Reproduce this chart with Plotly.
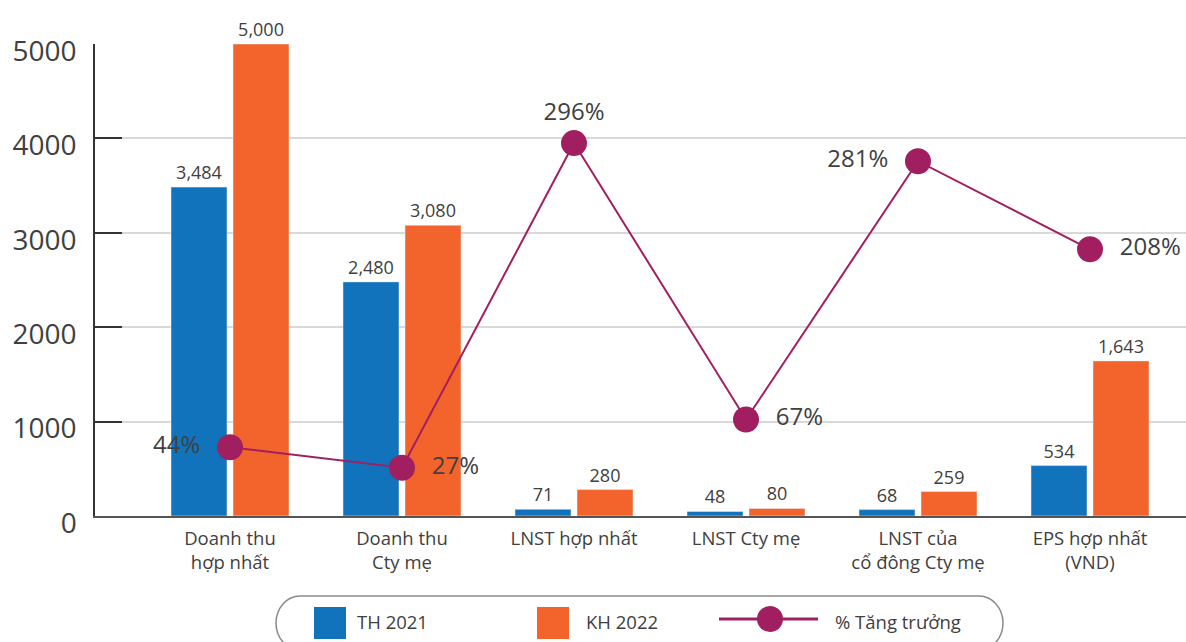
import plotly.graph_objects as go

categories = ["Doanh thu<br>hợp nhất", "Doanh thu<br>Cty mẹ", "LNST hợp nhất",
              "LNST Cty mẹ", "LNST của<br>cổ đông Cty mẹ", "EPS hợp nhất<br>(VND)"]
th_2021 = [3484, 2480, 71, 48, 68, 534]
kh_2022 = [5000, 3080, 280, 80, 259, 1643]
growth_pct = [44, 27, 296, 67, 281, 208]
growth_text_pos = ["middle left", "middle right", "top center",
                   "middle right", "middle left", "middle right"]

BLUE = "#1173BB"
ORANGE = "#F3642D"
PURPLE = "#A11F61"
TXT = "#404040"
FONT = "Open Sans"
NB = "\u00a0\u00a0"

W, H = 1186, 642
ML, MR, MT, MB = 95, 0, 44, 126
PW, PH = W - ML - MR, H - MT - MB


def px(x):
    return (x - ML) / PW


def py(y):
    return (H - MB - y) / PH


def label(v, pos):
    t = f"{v}%"
    if pos.endswith("left"):
        return t + NB
    if pos.endswith("right"):
        return NB + t
    return t


x_idx = list(range(len(categories)))

fig = go.Figure()
fig.add_trace(go.Bar(
    x=x_idx, y=th_2021, name="TH 2021", marker_color=BLUE,
    texttemplate="%{y:,}", textposition="outside", cliponaxis=False,
    textfont=dict(size=18, color=TXT, family=FONT),
))
fig.add_trace(go.Bar(
    x=x_idx, y=kh_2022, name="KH 2022", marker_color=ORANGE,
    texttemplate="%{y:,}", textposition="outside", cliponaxis=False,
    textfont=dict(size=18, color=TXT, family=FONT),
))
fig.add_trace(go.Scatter(
    x=x_idx, y=growth_pct, name="% Tăng trưởng", yaxis="y2",
    mode="lines+markers+text", cliponaxis=False,
    line=dict(color=PURPLE, width=2),
    marker=dict(size=26, color=PURPLE),
    text=[label(v, p) for v, p in zip(growth_pct, growth_text_pos)],
    textposition=growth_text_pos,
    textfont=dict(size=24, color=TXT, family=FONT),
))

shapes = [
    # gap between y ticks and gridlines
    dict(type="rect", xref="paper", yref="paper", x0=px(123), x1=px(148),
         y0=py(516) + 0.004, y1=py(40), fillcolor="white", line_width=0, layer="between"),
]

# legend frame (stadium shape)
x0, x1, y0, y1 = 276, 1003, 596, 650
rx, ry = 24, 27
k = 0.5523


def P(x, y):
    return f"{px(x):.5f},{py(y):.5f}"


path = (
    f"M {P(x0 + rx, y0)} L {P(x1 - rx, y0)} "
    f"C {P(x1 - rx + k * rx, y0)} {P(x1, y0 + ry - k * ry)} {P(x1, y0 + ry)} "
    f"C {P(x1, y0 + ry + k * ry)} {P(x1 - rx + k * rx, y1)} {P(x1 - rx, y1)} "
    f"L {P(x0 + rx, y1)} "
    f"C {P(x0 + rx - k * rx, y1)} {P(x0, y0 + ry + k * ry)} {P(x0, y0 + ry)} "
    f"C {P(x0, y0 + ry - k * ry)} {P(x0 + rx - k * rx, y0)} {P(x0 + rx, y0)} Z"
)
shapes.append(dict(type="path", xref="paper", yref="paper", path=path,
                   line=dict(color="#8a8a8a", width=1.5), fillcolor="rgba(0,0,0,0)"))
shapes += [
    dict(type="rect", xref="paper", yref="paper", x0=px(314), x1=px(346), y0=py(639), y1=py(607),
         fillcolor=BLUE, line_width=0),
    dict(type="rect", xref="paper", yref="paper", x0=px(537), x1=px(569), y0=py(639), y1=py(607),
         fillcolor=ORANGE, line_width=0),
    dict(type="line", xref="paper", yref="paper", x0=px(719), x1=px(818), y0=py(619), y1=py(619),
         line=dict(color=PURPLE, width=3)),
    dict(type="circle", xref="paper", yref="paper", x0=px(757), x1=px(783), y0=py(632), y1=py(606),
         fillcolor=PURPLE, line_width=0),
]

annotations = [
    dict(text=t, x=px(xx), y=py(621), xref="paper", yref="paper", xanchor="left",
         yanchor="middle", showarrow=False, font=dict(size=18.5, color=TXT, family=FONT))
    for t, xx in [("TH 2021", 355), ("KH 2022", 584), ("% Tăng trưởng", 833)]
]

fig.update_layout(
    width=W, height=H,
    margin=dict(l=ML, r=MR, t=MT, b=MB),
    paper_bgcolor="white", plot_bgcolor="white",
    font=dict(family=FONT, color=TXT),
    showlegend=False,
    barmode="group", bargap=0.279, bargroupgap=0.097,
    xaxis=dict(
        tickmode="array", tickvals=x_idx, ticktext=categories,
        range=[-135 / 172, 956 / 172],
        showline=True, linecolor="#555555", linewidth=2,
        ticks="", showgrid=False, zeroline=False,
        tickfont=dict(size=18.5, color=TXT, family=FONT),
        ticklabelstandoff=5,
    ),
    yaxis=dict(
        range=[0, 5000], tickvals=[0, 1000, 2000, 3000, 4000, 5000],
        showline=True, linecolor="#333333", linewidth=1.5,
        ticks="inside", ticklen=27, tickwidth=1.5, tickcolor="#333333",
        showgrid=True, gridcolor="#D9D9D9", gridwidth=1.5, zeroline=False,
        tickfont=dict(size=28, color=TXT, family=FONT),
        ticklabelstandoff=11, ticklabelshift=7,
    ),
    yaxis2=dict(
        overlaying="y", range=[-12.97, 378.1], visible=False,
    ),
    shapes=shapes,
    annotations=annotations,
)

fig.write_html("out.html")
